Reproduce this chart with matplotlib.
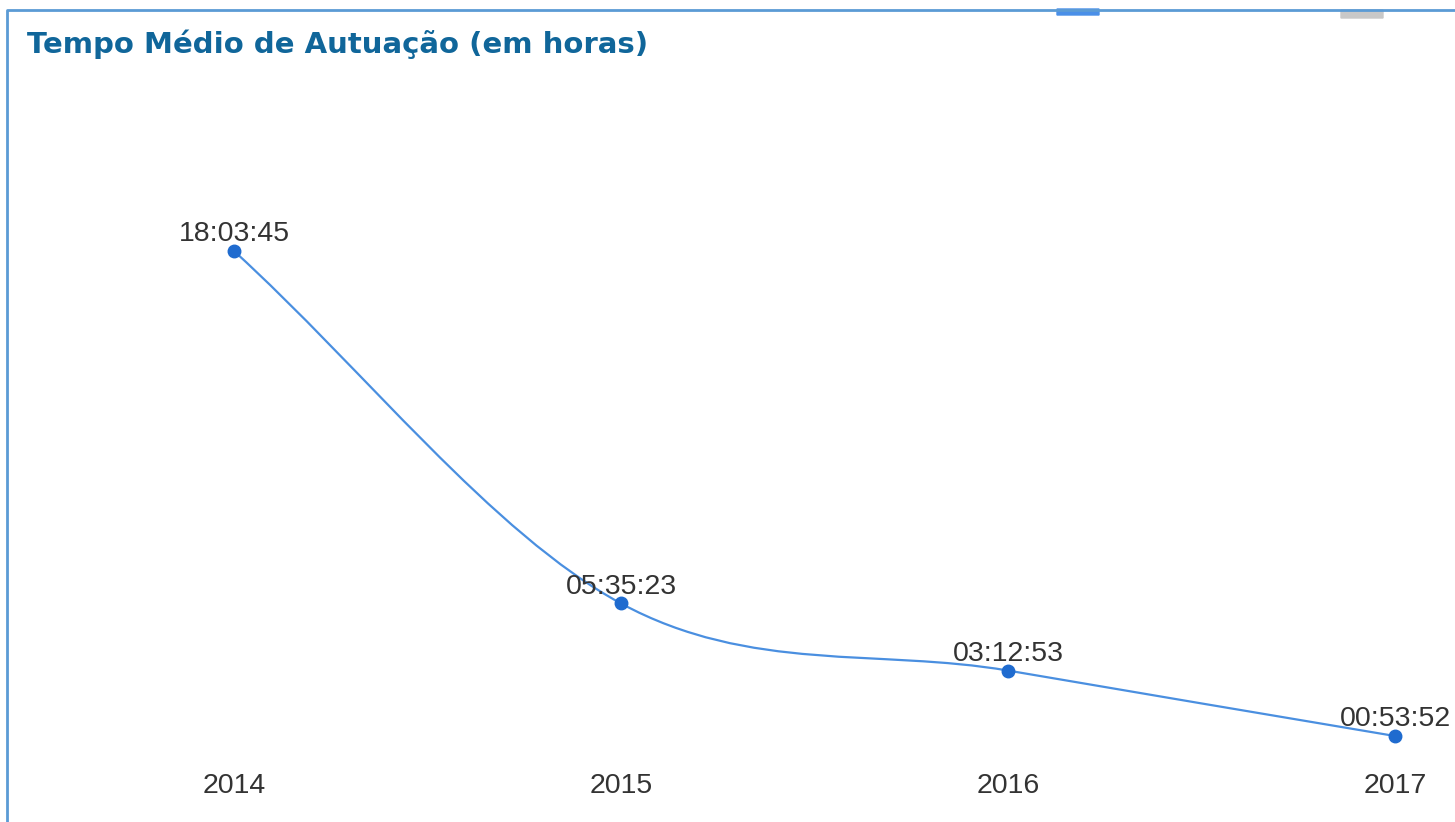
import matplotlib.pyplot as plt
import numpy as np
from matplotlib.path import Path
from matplotlib.patches import PathPatch, FancyBboxPatch
from matplotlib.lines import Line2D

# dados
anos = ['2014', '2015', '2016', '2017']
tempos = ['18:03:45', '05:35:23', '03:12:53', '00:53:52']
titulo = 'Tempo Médio de Autuação (em horas)'


def to_hours(s):
    h, m, sec = [int(p) for p in s.split(':')]
    return h + m / 60 + sec / 3600


horas = np.array([to_hours(t) for t in tempos])
x = np.arange(len(anos), dtype=float)

W, H = 1455, 822
fig = plt.figure(figsize=(W / 100, H / 100), dpi=100)
ax = fig.add_axes([0, 0, 1, 1])
ax.set_xlim(-0.6047, 3.155)
ax.set_ylim(-2.145, 26.947)
ax.axis('off')

line_color = '#4a8fe0'
dot_color = '#1f6bcf'
text_color = '#333333'

# curva suave (hermite em x, tangentes tipo catmull-rom)
n = len(x)
m = np.zeros(n)
m[0] = (horas[1] - horas[0]) / (x[1] - x[0])
m[-1] = (horas[-1] - horas[-2]) / (x[-1] - x[-2])
for i in range(1, n - 1):
    m[i] = (horas[i + 1] - horas[i - 1]) / (x[i + 1] - x[i - 1])

verts = [(x[0], horas[0])]
codes = [Path.MOVETO]
for i in range(n - 1):
    h = (x[i + 1] - x[i]) / 3
    verts += [(x[i] + h, horas[i] + m[i] * h),
              (x[i + 1] - h, horas[i + 1] - m[i + 1] * h),
              (x[i + 1], horas[i + 1])]
    codes += [Path.CURVE4] * 3
ax.add_patch(PathPatch(Path(verts, codes), fill=False, edgecolor=line_color,
                       lw=1.6, zorder=2))

ax.plot(x, horas, 'o', color=dot_color, ms=9, zorder=3)

for xi, yi, t in zip(x, horas, tempos):
    ax.annotate(t, (xi, yi), xytext=(0, 7), textcoords='offset points',
                ha='center', va='baseline', fontsize=20.5,
                family='Liberation Sans', color=text_color)

for xi, a in zip(x, anos):
    ax.text(xi, 1 - 793 / H, a, transform=ax.get_xaxis_transform(),
            ha='center', va='baseline', fontsize=20.5,
            family='Liberation Sans', color=text_color)

fig.text(27 / W, 1 - 53 / H, titulo, ha='left', va='baseline',
         fontsize=21, fontweight='bold', family='DejaVu Sans',
         color='#10669a')

# moldura e restos da legenda cortada
border = '#5b9bd5'
fig.add_artist(Line2D([7 / W, 7 / W, 1], [0, 1 - 10 / H, 1 - 10 / H],
                      color=border, lw=2))
fig.add_artist(FancyBboxPatch((1057 / W, 1 - 15 / H), 42 / W, 6 / H,
                              boxstyle='round,pad=0', color='#4a8fe8',
                              transform=fig.transFigure))
fig.add_artist(FancyBboxPatch((1341 / W, 1 - 18 / H), 42 / W, 8 / H,
                              boxstyle='round,pad=0', color='#c8c8c8',
                              transform=fig.transFigure))

fig.savefig('out.png', dpi=100)
